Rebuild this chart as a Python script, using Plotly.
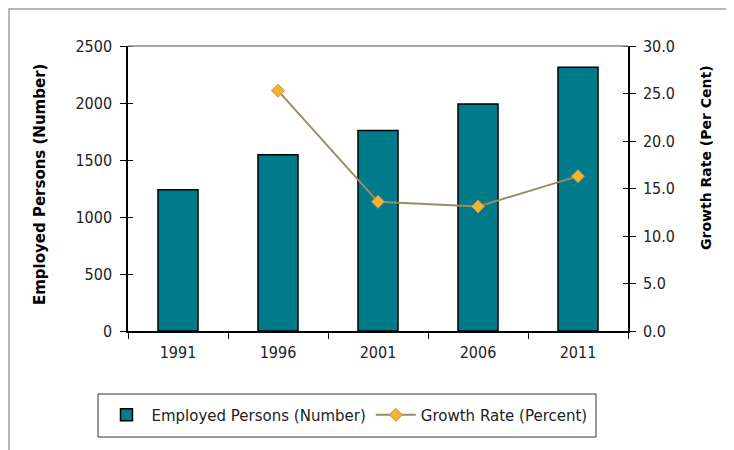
import plotly.graph_objects as go

years = ["1991", "1996", "2001", "2006", "2011"]
employed = [1238, 1546, 1758, 1992, 2313]
growth = [None, 25.3, 13.6, 13.1, 16.3]

TICKFONT = "Liberation Sans Narrow, DejaVu Sans Condensed, Lato, sans-serif"
TEXTFONT = "DejaVu Sans, sans-serif"
fig = go.Figure()
fig.add_trace(go.Bar(
    x=years, y=employed, name="Employed Persons (Number)",
    marker=dict(color="#007B89", line=dict(color="#000000", width=1.5)),
    yaxis="y",
))
fig.add_trace(go.Scatter(
    x=years, y=growth, name="Growth Rate (Percent)", mode="lines+markers",
    line=dict(color="#9C8B63", width=2),
    marker=dict(symbol="diamond", size=10, color="#F7B232", line=dict(color="#B8964A", width=1)),
    yaxis="y2", connectgaps=False,
))

tickfont = dict(family=TICKFONT, size=16, color="#222222")
fig.update_layout(
    width=734, height=450,
    margin=dict(l=120, r=114, t=38, b=127),
    paper_bgcolor="white", plot_bgcolor="white",
    font=dict(family=TEXTFONT, size=14, color="#222222"),
    bargap=0.6,
    showlegend=True,
    legend=dict(orientation="h", x=0.438, xanchor="center", y=-0.295, yanchor="middle",
                borderwidth=0, bgcolor="rgba(0,0,0,0)", font=dict(size=15, family=TEXTFONT),
                itemwidth=40, tracegroupgap=0),
    xaxis=dict(showline=True, linecolor="#000000", linewidth=1.5, ticks="outside",
               tickson="boundaries", ticklen=6, tickcolor="#000000", showgrid=False,
               tickfont=tickfont, automargin=False, ticklabelstandoff=6),
    yaxis=dict(range=[0, 2500], dtick=500, showline=True, linecolor="#000000", linewidth=1.5,
               ticks="outside", ticklen=6, tickcolor="#000000", showgrid=False, zeroline=False,
               tickfont=tickfont, automargin=False, ticklabelstandoff=5,
               minor=dict(dtick=500, ticks="inside", ticklen=5, tickcolor="#000000", showgrid=False)),
    yaxis2=dict(range=[0, 30], dtick=5, tickformat=".1f", overlaying="y", side="right",
                showline=True, linecolor="#000000", linewidth=1.5, ticks="outside", ticklen=6,
                tickcolor="#000000", showgrid=False, zeroline=False, tickfont=tickfont,
                automargin=False, ticklabelstandoff=4,
                minor=dict(dtick=5, ticks="inside", ticklen=5, tickcolor="#000000", showgrid=False)),
    annotations=[
        dict(text="<b>Employed Persons (Number)</b>", textangle=-90, xref="paper", yref="paper",
             x=-0.176, y=0.512, showarrow=False, font=dict(size=15, color="#000000"),
             xanchor="center", yanchor="middle"),
        dict(text="<b>Growth Rate (Per Cent)</b>", textangle=-90, xref="paper", yref="paper",
             x=1.156, y=0.607, showarrow=False, font=dict(size=14, color="#000000"),
             xanchor="center", yanchor="middle"),
    ],
    shapes=[
        dict(type="line", xref="paper", yref="paper", x0=0, x1=1, y0=1, y1=1,
             line=dict(color="#888888", width=1.5)),
        dict(type="rect", xref="paper", yref="paper", x0=-0.238, x1=1.3, y0=-0.5, y1=1.13,
             line=dict(color="#A0A0A0", width=1.5), fillcolor="rgba(0,0,0,0)", layer="below"),
        dict(type="rect", xref="paper", yref="paper", x0=-0.06, x1=0.936, y0=-0.372, y1=-0.221,
             line=dict(color="#333333", width=1), fillcolor="rgba(0,0,0,0)", layer="below"),
    ],
)

fig.write_html("out.html")
